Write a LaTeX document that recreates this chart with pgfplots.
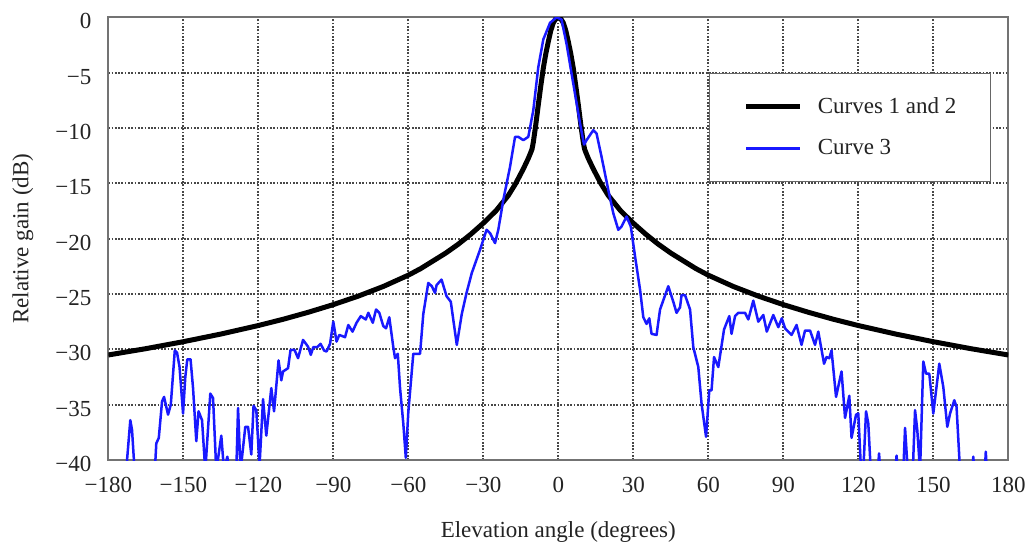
\documentclass[border=0pt]{standalone}
\usepackage{fontspec}
\setmainfont{Liberation Serif}
\usepackage{pgfplots}
\pgfplotsset{compat=1.18}
\definecolor{curveblue}{RGB}{25,25,255}
\definecolor{txt}{RGB}{35,35,35}
\newcommand{\lbl}{\fontsize{11.5}{13.8}\selectfont}
\begin{document}
\begin{tikzpicture}
\useasboundingbox (-54.15pt,-44pt) rectangle (463.35pt,230pt);
\begin{axis}[
  at={(0pt,0pt)}, anchor=south west,
  scale only axis, width=450pt, height=221.35pt,
  xmin=-180, xmax=180, ymin=-40, ymax=0,
  xtick={-180,-150,...,180},
  xticklabels={−180,−150,−120,−90,−60,−30,0,30,60,90,120,150,180},
  ytick={-40,-35,...,0},
  yticklabels={−40,−35,−30,−25,−20,−15,−10,−5,0},
  major tick length=0pt,
  grid=major,
  major grid style={dash pattern=on 0.85pt off 0.8pt, black!72, line width=0.9pt},
  axis line style={black!55, line width=0.9pt},
  tick label style={font=\lbl, text=txt, inner sep=0pt},
  xticklabel style={anchor=base, yshift=-16.2pt},
  yticklabel style={anchor=east, xshift=-8.3pt, yshift=-2pt},
  xlabel={Elevation angle (degrees)},
  ylabel={Relative gain (dB)},
  label style={font=\lbl, text=txt},
  xlabel style={at={(axis description cs:0.5,0)}, anchor=base, yshift=-38.65pt, inner sep=0pt},
  ylabel style={at={(axis description cs:-0.095,0.5)}, anchor=center},
  legend image code/.code={\draw[#1] (0pt,0pt) -- (27pt,0pt);},
  legend cell align=left,
  legend style={at={(axis description cs:0.9808,0.8749)}, anchor=north east,
    draw=black!60, line width=0.6pt, fill=white, font=\lbl, text=txt,
    inner xsep=17pt, inner ysep=12pt, row sep=11.5pt, column sep=7.5pt,
    nodes={inner sep=0pt, anchor=west}},
]
\addplot[black, line width=2.5pt, line join=round] coordinates {
(-180,-30.51) (-165,-29.94) (-150,-29.31) (-135,-28.62) (-120,-27.85) (-110,-27.28)
(-100,-26.65) (-90,-25.96) (-80,-25.19) (-70,-24.32) (-60,-23.3) (-55,-22.7)
(-50,-22.0) (-45,-21.3) (-40,-20.5) (-35,-19.6) (-30,-18.6) (-25,-17.5)
(-20,-16.1) (-17,-15.0) (-14,-13.7) (-12,-12.75) (-11,-12.2) (-10.5,-11.9)
(-10,-11.3) (-9,-9.7) (-8,-7.9) (-7,-6.2) (-6,-4.6) (-5,-3.3) (-4,-2.2)
(-3,-1.2) (-2,-0.5) (-1,-0.13) (0,0)
(1,-0.13) (2,-0.5) (3,-1.2) (4,-2.2) (5,-3.3) (6,-4.6) (7,-6.2) (8,-7.9)
(9,-9.7) (10,-11.3) (10.5,-11.9) (11,-12.2) (12,-12.75) (14,-13.7) (17,-15.0)
(20,-16.1) (25,-17.5) (30,-18.6) (35,-19.6) (40,-20.5) (45,-21.3) (50,-22.0)
(55,-22.7) (60,-23.3) (70,-24.32) (80,-25.19) (90,-25.96) (100,-26.65)
(110,-27.28) (120,-27.85) (135,-28.62) (150,-29.31) (165,-29.94) (180,-30.51)
};
\addlegendentry{Curves 1 and 2}
\addplot[curveblue, line width=1.25pt, line join=round] coordinates {
(-173.5,-44) (-172.5,-40) (-171.2,-36.4) (-170.5,-37.3) (-169.7,-40.2) (-168.5,-44)
(-162,-44) (-161.2,-40.2) (-160.8,-38.5) (-159.8,-38.0) (-158.5,-34.7) (-157.7,-34.3)
(-156.1,-35.9) (-155,-35.0) (-153.4,-30.1) (-152.5,-30.3) (-151.5,-31.6) (-150.1,-35.8)
(-149.2,-32.5) (-148.4,-30.9) (-147.1,-30.9) (-146.1,-33.5) (-144.8,-38.3) (-143.9,-35.6)
(-142.5,-36.4) (-141.2,-41) (-139.2,-34.0) (-138.1,-34.4) (-136.8,-41) (-134.8,-37.8)
(-133.7,-41) (-132.4,-39.7) (-131.5,-41) (-128.8,-41) (-128.1,-35.3) (-127.1,-41)
(-125.2,-37.0) (-124.1,-37.0) (-122.8,-39.5) (-121.9,-35.1) (-120.8,-35.5) (-119.5,-40.5)
(-118.1,-34.5) (-116.8,-37.8) (-114.8,-33.5) (-113.7,-35.6) (-111.9,-31.0) (-110.8,-32.8)
(-110.1,-32.0) (-108.1,-31.7) (-107.1,-30.05) (-105.5,-30.05) (-104.1,-30.8) (-102.1,-29.15)
(-100.1,-29.76) (-99,-30.5) (-98,-29.8) (-96.4,-29.8) (-95.1,-29.5) (-93.7,-30.1)
(-92.7,-30.2) (-91.3,-29.5) (-90,-27.5) (-88.7,-29.3) (-87.6,-28.7) (-85.3,-28.9)
(-84,-27.8) (-82.3,-28.4) (-80.7,-27.6) (-79,-27.0) (-77,-27.3) (-76,-26.7)
(-74.2,-27.6) (-72.9,-26.4) (-71.6,-26.7) (-70,-27.9) (-68.9,-28.1) (-67.6,-27.1)
(-66,-29.8) (-65.3,-30.8) (-64.2,-30.4) (-63.3,-33.5) (-62,-36.7) (-61,-39.8)
(-60,-35.7) (-58,-30.4) (-55.3,-30.4) (-54,-26.8) (-52,-24.0) (-50.6,-24.3)
(-49.3,-24.9) (-48.7,-24.2) (-46.7,-23.7) (-44.7,-25.2) (-43,-25.7) (-40.6,-29.6)
(-38.6,-26.8) (-36.7,-24.9) (-34.6,-23.1) (-31.3,-21.0) (-28.7,-19.2) (-27.3,-19.5)
(-25.3,-20.4) (-24,-19.2) (-22,-16.5) (-19.3,-13.5) (-17.3,-10.8) (-16,-10.8)
(-14,-11.1) (-12,-10.8) (-10,-8.4) (-8,-4.5) (-6,-2.0) (-3.3,-0.5) (-0.7,0)
(1.3,-0.2) (3.3,-2.4) (6,-6.0) (8.7,-9.6) (10.3,-11.5) (11.3,-11.1) (14,-10.2)
(15.3,-10.5) (17.3,-12.6) (20,-15.6) (22,-17.7) (24,-19.2) (25.3,-18.9) (27.3,-18.0)
(29,-18.9) (30.7,-21.6) (32.7,-24.6) (34,-27.1) (35.3,-27.7) (36.4,-27.2) (37.3,-28.6)
(39.3,-28.7) (40.7,-26.4) (44,-24.3) (46,-25.7) (47.3,-26.7) (48.7,-26.2) (49.3,-25.1)
(50.7,-25.1) (52.7,-26.4) (54,-29.8) (56,-31.6) (57.3,-34.9) (59.1,-37.9) (60.4,-33.7)
(61.3,-33.7) (62.3,-30.7) (64,-31.6) (66.3,-28.2) (68.4,-27.0) (69.3,-28.6) (70.7,-27.0)
(72,-26.7) (74.7,-26.7) (76,-27.3) (78,-25.6) (80,-27.5) (82,-26.9) (83.4,-28.4)
(86,-26.9) (88,-28.0) (89.4,-27.2) (90.7,-28.1) (93.3,-28.7) (95.3,-27.8) (97.3,-29.6)
(98.7,-28.3) (100.7,-28.3) (102.7,-29.6) (104,-28.4) (106.3,-31.3) (107.3,-30.7)
(108.4,-30.8) (109.3,-30.1) (111.1,-34.3) (113.3,-32.0) (114.7,-36.2) (116.4,-34.2)
(117.3,-38.0) (119.1,-35.9) (120,-35.8) (121,-40.5) (122,-41) (123.1,-35.6) (124,-36.7)
(125,-41) (127.8,-41) (128.3,-39.4) (128.8,-41) (134.8,-41) (135.3,-39.6) (135.8,-41)
(138,-41) (138.7,-37.1) (139.8,-41) (141.8,-41) (142.7,-35.5) (143.6,-37.3) (144.7,-41)
(146,-31.1) (147.1,-32.2) (148.4,-32.2) (150,-35.8) (152.4,-31.3) (154,-33.4)
(155.6,-37.0) (156.7,-35.8) (158.4,-34.6) (159.3,-35.2) (160.7,-41) (165.6,-41)
(166,-39.7) (166.4,-41) (170.6,-41) (171,-39.25) (171.4,-41) (175,-44)
};
\addlegendentry{Curve 3}
\end{axis}
\end{tikzpicture}
\end{document}
